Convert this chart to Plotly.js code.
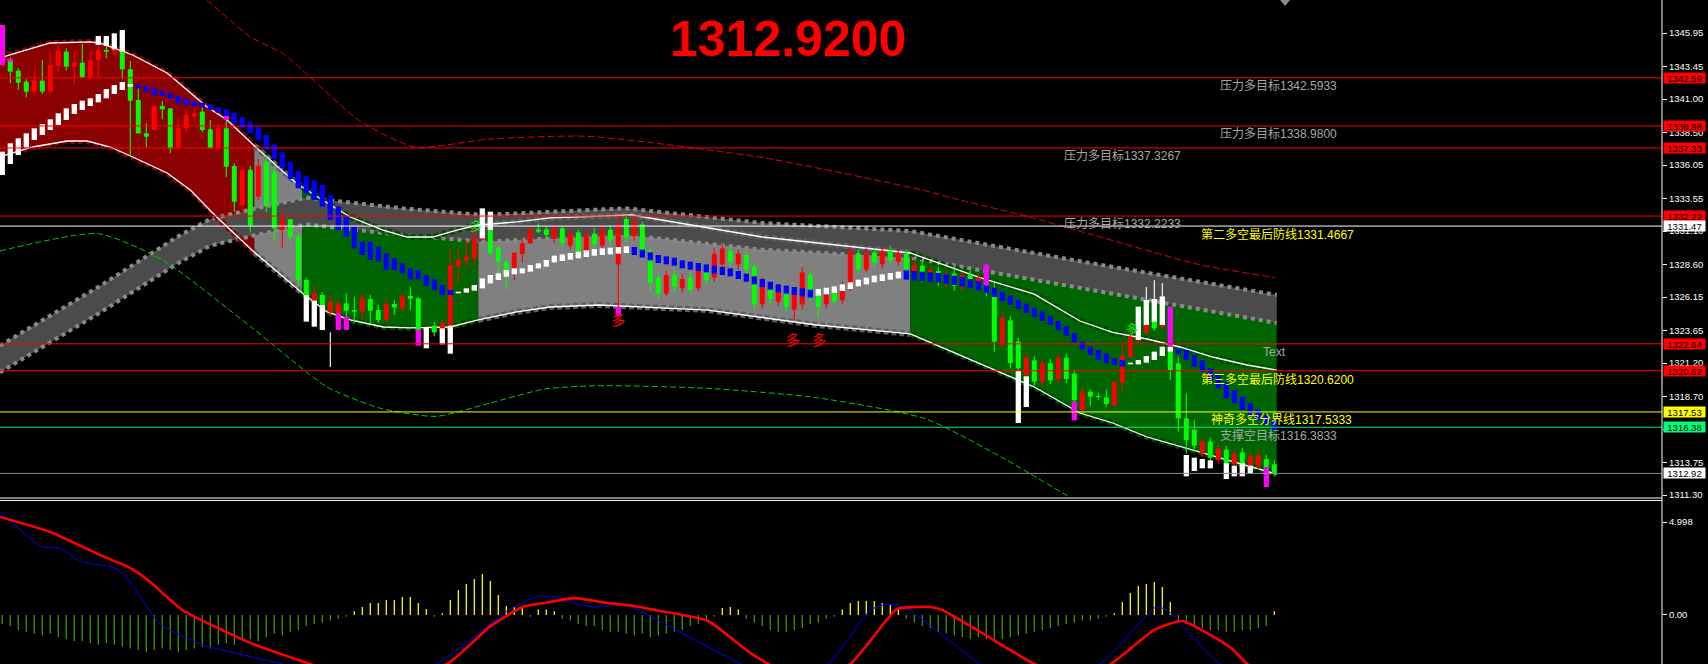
<!DOCTYPE html>
<html><head><meta charset="utf-8">
<script src="https://cdn.plot.ly/plotly-3.0.1.min.js"></script>
<style>html,body{margin:0;padding:0;background:#000;overflow:hidden}#chart{width:1708px;height:664px}</style>
</head><body><div id="chart"></div>
<script>
// ---------------- DATA ----------------
const candleOpen = [
1346.3,1343.925,1343.125,1342.3,1341.55,1342.375,1341.55,1343.475,1344.55,1343.425,
1343.725,1342.625,1343.925,1344.675,1344.55,1344.625,1343.225,1340.925,1338.425,1338.675,
1340.475,1340.3,1337.3,1338.8,1339.675,1340.05,1338.725,1337.3,1338.8,1335.975,
1333.05,1335.7,1333.675,1336.3,1335.5,1331.175,1331.975,1330.675,1327.425,1325.875,
1326.3,1325.0,1324.425,1325.675,1325.175,1325.05,1326.0,1325.175,1324.425,1325.625,
1325.3,1326.225,1326.05,1323.3,1324.0,1323.4,1323.0,1328.475,1328.85,1329.05,
1330.475,1331.225,1329.8,1328.725,1327.975,1329.375,1330.175,1331.225,1331.225,1330.5,
1331.3,1330.0,1331.0,1329.6,1330.9,1330.0,1331.2,1328.6,1332.0,1330.7,
1331.6,1329.6,1327.6,1326.4,1327.8,1326.8,1327.6,1326.8,1328.2,1327.6,
1328.6,1329.6,1328.6,1329.3,1328.4,1325.6,1327.0,1325.8,1326.6,1325.2,
1325.6,1327.8,1326.4,1325.6,1326.6,1325.9,1326.8,1329.4,1328.2,1329.5,
1328.6,1329.6,1328.8,1329.4,1328.0,1328.5,1327.5,1328.1,1327.2,1327.9,
1326.9,1327.8,1327.0,1327.4,1326.8,1322.6,1324.4,1322.8,1320.3,1321.4,
1319.8,1321.2,1320.0,1321.6,1320.4,1317.675,1319.05,1318.7,1318.625,1318.05,
1319.725,1321.675,1322.9,1323.5,1324.5,1323.9,1322.05,1321.175,1317.05,1316.2,
1314.4,1315.3,1313.9,1314.7,1313.6,1314.5,1313.3,1313.5,1314.0,1313.6];
const candleHigh = [
1346.5,1344.125,1343.3,1342.475,1343.125,1343.925,1344.55,1345.225,1344.8,1344.55,
1345.125,1344.475,1345.175,1345.05,1344.925,1344.625,1343.85,1341.8,1339.175,1340.475,
1340.85,1340.3,1339.55,1340.175,1340.225,1340.45,1339.425,1339.175,1339.425,1336.175,
1335.925,1336.0,1336.5,1336.8,1336.0,1332.725,1332.0,1330.925,1327.6,1327.05,
1326.5,1326.3,1325.9,1326.425,1326.175,1326.425,1326.3,1325.55,1326.05,1325.925,
1326.425,1326.925,1326.175,1324.0,1324.3,1324.5,1329.8,1329.675,1330.425,1331.425,
1331.3,1331.225,1329.925,1328.925,1329.475,1330.8,1331.4,1331.675,1331.425,1331.6,
1331.5,1331.3,1331.2,1331.2,1331.3,1331.6,1331.5,1332.2,1332.4,1332.1,
1331.8,1329.8,1328.0,1328.1,1328.2,1327.9,1328.0,1328.5,1328.6,1329.8,
1330.1,1329.9,1329.7,1329.6,1328.7,1327.6,1327.4,1327.1,1327.0,1326.8,
1328.4,1328.1,1326.8,1326.9,1327.0,1327.3,1329.9,1329.7,1329.8,1329.8,
1329.9,1330.0,1329.8,1329.7,1329.0,1328.8,1328.5,1328.4,1328.2,1328.2,
1328.0,1328.1,1327.9,1327.7,1327.2,1325.0,1324.7,1323.1,1322.0,1321.7,
1321.5,1321.5,1321.9,1321.9,1320.7,1319.3,1319.225,1318.975,1319.225,1319.8,
1322.8,1323.425,1324.0,1324.6,1324.7,1324.8,1322.4,1321.675,1318.9,1316.9,
1315.6,1315.6,1315.1,1315.0,1314.7,1314.8,1314.5,1314.6,1314.3,1313.9];
const candleLow = [
1343.5,1342.175,1341.675,1341.125,1341.175,1341.375,1341.375,1343.05,1343.125,1342.175,
1342.6,1342.475,1342.625,1344.05,1344.3,1342.475,1336.675,1338.4,1337.375,1338.675,
1339.475,1336.925,1337.3,1338.425,1339.3,1338.475,1337.3,1337.3,1335.125,1332.55,
1332.55,1331.0,1333.4,1332.5,1330.425,1329.8,1330.3,1326.975,1326.3,1325.05,
1325.05,1324.7,1324.4,1324.425,1324.175,1324.425,1324.175,1324.175,1324.175,1324.8,
1325.05,1325.175,1323.0,1322.8,1323.2,1323.0,1322.8,1327.175,1328.425,1328.55,
1330.4,1329.3,1327.425,1326.675,1327.425,1328.725,1330.1,1330.925,1330.475,1330.2,
1329.9,1329.7,1329.4,1329.3,1329.8,1329.8,1330.0,1325.2,1330.3,1330.4,
1329.0,1326.6,1326.0,1326.2,1326.5,1326.5,1326.4,1326.6,1327.1,1327.3,
1328.3,1328.4,1328.2,1327.9,1325.2,1325.3,1325.6,1325.5,1325.0,1324.4,
1325.2,1325.8,1324.6,1325.3,1325.5,1325.6,1326.6,1327.9,1328.0,1328.4,
1328.3,1328.6,1328.5,1327.9,1327.7,1327.3,1327.2,1327.0,1326.9,1326.6,
1326.6,1326.8,1326.7,1326.2,1322.0,1322.3,1320.8,1320.6,1320.0,1319.5,
1319.5,1319.6,1319.7,1319.7,1318.2,1317.5,1317.975,1318.425,1317.925,1317.925,
1319.05,1321.55,1322.7,1323.3,1323.6,1323.7,1319.925,1316.05,1314.4,1314.6,
1314.1,1313.8,1313.6,1313.4,1313.3,1313.1,1313.0,1313.2,1312.0,1312.7];
const candleClose = [
1343.8,1343.05,1342.225,1341.55,1342.375,1341.55,1343.55,1344.625,1343.425,1343.725,
1342.625,1343.925,1344.675,1344.55,1344.75,1343.225,1340.875,1338.425,1338.175,1340.475,
1340.225,1337.3,1338.8,1339.8,1339.925,1338.675,1337.3,1338.8,1335.925,1333.3,
1335.675,1331.5,1336.0,1333.0,1331.3,1331.975,1330.675,1327.425,1326.3,1326.425,
1325.05,1325.8,1325.675,1325.125,1325.05,1326.05,1325.125,1324.425,1325.625,1325.375,
1326.225,1326.025,1323.5,1323.7,1323.5,1324.2,1328.55,1328.925,1329.175,1330.55,
1331.225,1329.425,1328.8,1327.675,1329.475,1330.175,1331.225,1331.05,1330.8,1331.3,
1330.2,1330.9,1329.6,1330.8,1330.1,1331.2,1330.4,1331.6,1330.6,1331.8,
1329.4,1327.2,1326.4,1327.8,1326.9,1327.5,1326.7,1328.2,1327.4,1329.4,
1329.8,1328.8,1329.4,1328.2,1325.6,1327.2,1326.0,1326.8,1325.4,1326.4,
1328.0,1326.2,1325.4,1326.5,1325.8,1327.0,1329.6,1328.2,1329.4,1328.7,
1329.6,1328.9,1329.4,1328.2,1328.6,1327.6,1328.2,1327.3,1327.9,1327.0,
1327.8,1327.1,1327.6,1326.5,1322.8,1324.6,1321.2,1320.8,1321.6,1319.8,
1321.2,1319.9,1321.6,1320.0,1318.4,1319.05,1318.675,1318.65,1318.125,1319.8,
1321.725,1323.175,1323.6,1324.4,1323.8,1324.6,1320.675,1317.05,1315.425,1315.0,
1315.3,1314.1,1314.8,1313.7,1314.4,1313.4,1314.2,1314.3,1313.2,1312.92];

// trend blocks (white = up, blue = down)
const trendLo = [
1335.30,1336.125,1336.80,1337.35,1337.925,1338.3,1338.675,1339.05,1339.425,1339.875,
1340.175,1340.475,1340.75,1341.05,1341.375,1341.675,1341.925,1341.8,1341.55,1341.3,
1341.225,1341.0,1340.675,1340.55,1340.475,1340.375,1340.175,1339.975,1339.675,1339.175,
1338.8,1338.425,1337.9,1337.2,1336.5,1335.8,1335.0,1334.3,1333.925,1333.425,
1332.925,1331.925,1331.175,1330.675,1329.8,1329.3,1328.925,1328.8,1328.175,1328.175,
1327.925,1327.475,1327.475,1326.975,1326.675,1326.3,1326.3,1326.425,1326.475,1326.625,
1326.8,1327.175,1327.425,1327.675,1327.85,1327.925,1328.05,1328.3,1328.425,1328.75,
1328.85,1328.95,1329.05,1329.15,1329.25,1329.3,1329.35,1329.4,1329.45,1329.3,
1329.1,1328.9,1328.7,1328.6,1328.5,1328.3,1328.2,1328.1,1328.0,1327.9,
1327.8,1327.7,1327.5,1327.3,1327.1,1326.9,1326.7,1326.5,1326.4,1326.3,
1326.2,1326.1,1326.25,1326.35,1326.45,1326.6,1326.75,1326.95,1327.1,1327.25,
1327.35,1327.45,1327.55,1327.45,1327.4,1327.35,1327.3,1327.25,1327.15,1327.05,
1326.95,1326.8,1326.65,1326.45,1326.15,1325.85,1325.55,1325.25,1324.95,1324.65,
1324.35,1324.05,1323.65,1323.25,1322.75,1322.175,1321.8,1321.425,1321.175,1321.05,
1320.925,1321.1,1321.1,1321.225,1321.425,1321.725,1322.05,1321.875,1321.425,1320.925,
1320.55,1319.925,1319.3,1318.55,1318.175,1317.675,1317.3,1316.925,1316.55,1316.2];
const trendHi = [
1337.05,1337.675,1338.05,1338.425,1338.8,1339.125,1339.475,1339.925,1340.3,1340.625,
1340.875,1341.05,1341.375,1341.75,1342.05,1342.275,1342.125,1342.05,1341.975,1341.8,
1341.6,1341.425,1341.225,1340.975,1340.85,1340.725,1340.6,1340.375,1340.225,1339.975,
1339.625,1339.3,1338.9,1338.3,1337.6,1337.0,1336.3,1335.6,1335.2,1334.9,
1334.55,1333.8,1332.925,1332.175,1331.425,1330.3,1330.3,1329.925,1329.425,1329.05,
1328.675,1328.3,1328.175,1327.8,1327.475,1327.05,1326.675,1326.55,1326.8,1327.05,
1327.55,1327.8,1327.925,1328.175,1328.3,1328.3,1328.55,1328.675,1328.925,1329.25,
1329.35,1329.45,1329.55,1329.65,1329.75,1329.8,1329.85,1329.9,1329.95,1329.9,
1329.7,1329.5,1329.3,1329.2,1329.1,1328.9,1328.8,1328.7,1328.6,1328.5,
1328.4,1328.3,1328.1,1327.9,1327.7,1327.5,1327.3,1327.1,1327.0,1326.9,
1326.8,1326.7,1326.75,1326.85,1326.95,1327.1,1327.25,1327.45,1327.6,1327.75,
1327.85,1327.95,1328.05,1328.15,1328.1,1328.05,1328.0,1327.95,1327.85,1327.75,
1327.65,1327.5,1327.35,1327.15,1326.85,1326.55,1326.25,1325.95,1325.65,1325.35,
1325.05,1324.75,1324.35,1323.95,1323.45,1322.8,1322.425,1322.175,1321.925,1321.55,
1321.425,1321.225,1321.425,1321.725,1322.05,1322.425,1322.425,1322.225,1322.175,1321.8,
1321.425,1320.8,1320.3,1319.725,1319.175,1318.675,1318.175,1317.725,1317.3,1316.9];
const trendRuns = [['w',17],['b',40],['w',22],['b',23],['w',11],['b',28],['w',6],['b',13]];

// highlight bars (white / magenta)
const sigK  = [0,1,12,13,14,15,28,38,39,40,42,43,52,53,55,56,60,61,77,123,127,128,134,142,143,144,145,146,148,149,150,151,153,154,155,156,158];
const sigLo = [1343.55,1343.8,1345.05,1344.975,1344.725,1344.55,1339.425,1324.3,1323.925,1323.675,1323.675,1323.675,1322.5,1322.3,1322.6,1321.9,1330.55,1331.175,1324.7,1327.0,1316.7,1317.9,1316.9,1322.925,1324.05,1324.3,1324.05,1322.425,1312.7,1313.1,1313.3,1313.3,1312.5,1312.7,1312.7,1312.9,1311.9];
const sigHi = [1346.55,1344.0,1345.725,1345.725,1345.925,1346.175,1339.725,1326.3,1325.875,1325.55,1324.925,1324.675,1323.7,1323.9,1323.8,1324.0,1332.8,1332.55,1325.4,1328.6,1320.6,1320.2,1318.3,1325.425,1325.925,1326.0,1326.2,1325.425,1314.3,1314.1,1314.0,1313.9,1313.7,1313.5,1313.7,1313.5,1313.4];
const sigColor = ['m','m','w','w','w','w','m','w','w','w','m','m','m','w','w','w','w','w','m','m','w','w','m','w','w','w','w','m','w','w','w','w','w','w','w','w','m'];
const sigWickK  = [41,143,144,145];
const sigWickLo = [1320.9,1325.9,1326.0,1326.2];
const sigWickHi = [1323.5,1326.9,1327.4,1327.2];

// regression channel (bar index, price)
const upperK = [-0.3,2.2,6,11,12.2,16.3,20.6,23.1,25.6,28.1,31.5,36.3,37.5,40,43.5,47.6,50.6,53.8,56.8,59.5,64.3,68.5,78.7,95,113.5,122.2,129,134.7,138.8,143.1,147.2,151.3,155.6,159.3];
const upperP = [1344.08,1344.53,1345.2,1345.28,1345.2,1344.3,1342.95,1341.68,1340.4,1339.43,1337.5,1334.93,1334.4,1333.42,1332.15,1331.17,1330.65,1330.65,1331.17,1331.55,1331.78,1332.08,1332.3,1330.65,1329.45,1327.6,1326.37,1324.35,1323.5,1323.0,1322.4,1321.65,1321.05,1320.67];
const lowerK = [-0.3,3.8,8.1,10.6,13.5,16.3,20.6,23.5,26.3,27.2,31.5,37.5,40.6,43.5,47.6,51,56,59.5,64.3,68.5,74.6,88.2,101.8,113.5,129,134.7,138.8,143.1,159.3];
const lowerP = [1336.65,1337.4,1337.85,1337.85,1337.4,1336.65,1335.45,1334.17,1332.45,1331.92,1329.5,1326.45,1325.03,1324.43,1323.9,1323.83,1323.9,1324.43,1325.03,1325.4,1325.55,1325.17,1324.05,1323.38,1319.4,1317.45,1316.7,1315.65,1312.87];
const segBounds = [-0.3,31.5,37.5,59.5,113.5,159.3];
// grey ribbon band
const ribK   = [-0.3,12,22,26,31,38,50,60,78,95,113.5,135,159.3];
const ribTop = [1322.5,1326.9,1330.7,1332.0,1332.7,1333.6,1332.8,1332.3,1332.8,1331.7,1331.1,1328.8,1326.3];
const ribBot = [1320.5,1324.9,1328.7,1330.0,1330.7,1331.6,1330.8,1330.3,1330.8,1329.7,1329.1,1326.8,1324.2];
// envelope dashed lines
const redDashK = [25.6,28.5,31,35.1,44.6,51.5,61,73.2,95.1,115.5,118.5,128.1,135.8,149.5,159.1];
const redDashP = [1348.4,1346.9,1345.65,1344.4,1339.4,1337.4,1338.0,1338.2,1336.6,1334.1,1333.6,1332.2,1330.9,1328.6,1327.6];
const greenDashK = [-0.3,12,20.1,31.1,40.6,47.3,54.2,61,67.8,74.6,88.2,101.8,115.5,125,133.8];
const greenDashP = [1329.6,1330.9,1328.9,1323.9,1319.4,1317.8,1317.2,1318.2,1319.25,1319.5,1319.3,1318.6,1317.0,1314.1,1311.0];

// level lines
const levelPrice = [1342.59,1338.98,1337.33,1332.22,1331.47,1322.64,1320.62,1317.53,1316.38,1312.92];
const levelLabel = ['1342.59','1338.98','1337.33','1332.22','1331.47','1322.64','1320.62','1317.53','1316.38','1312.92'];
const noteText = ['压力多目标1342.5933','压力多目标1338.9800','压力多目标1337.3267','压力多目标1332.2233','第二多空最后防线1331.4667','第三多空最后防线1320.6200','神奇多空分界线1317.5333','支撑空目标1316.3833','Text'];
const notePrice = [1342.59,1338.98,1337.33,1332.22,1331.47,1320.62,1317.53,1316.38,1322.64];
const priceTicks = [1345.95,1343.45,1341.00,1338.50,1336.05,1333.55,1331.10,1328.60,1326.15,1323.65,1321.20,1318.70,1316.25,1313.75,1311.30];
const markK = [77,98.8,102.1];
const markP = [1324.35,1322.85,1322.85];
const gMarkK = [59.2,141.2];
const gMarkP = [1331.3,1323.6];
const lastPrice = '1312.9200';

// oscillator
const hist = [
-0.5,-0.6,-0.8,-0.9,-1.0,-1.1,-1.0,-1.2,-1.3,-1.4,
-1.4,-1.5,-1.6,-1.5,-1.6,-1.7,-1.8,-1.9,-2.0,-1.9,
-1.8,-1.9,-2.0,-1.9,-1.8,-1.7,-1.8,-1.6,-1.5,-1.6,
-1.4,-1.3,-1.4,-1.2,-1.0,-1.1,-0.9,-0.8,-0.6,-0.5,
-0.4,-0.3,-0.2,-0.1,0.2,0.43,0.65,0.65,0.81,0.81,
0.97,0.97,0.65,0.32,-0.1,0.1,0.81,1.34,1.67,1.94,
2.2,1.83,1.08,0.48,0.43,0.38,-0.1,0.3,0.3,0.2,
-0.2,-0.3,-0.5,-0.6,-0.6,-0.8,-0.9,-0.9,-1.0,-1.1,
-1.0,-1.2,-1.1,-1.0,-0.9,-0.8,-0.6,-0.5,-0.3,-0.1,
0.38,0.43,0.3,-0.2,-0.4,-0.6,-0.8,-0.9,-0.9,-0.8,
-0.7,-0.5,-0.4,-0.2,-0.1,0.3,0.65,0.75,0.75,0.75,
0.65,0.54,0.3,-0.2,-0.4,-0.6,-0.7,-0.9,-1.0,-1.1,
-1.2,-1.3,-1.2,-1.3,-1.4,-1.3,-1.2,-1.1,-1.0,-0.9,
-0.8,-0.7,-0.6,-0.5,-0.4,-0.3,-0.3,-0.2,-0.1,0.1,
0.7,1.18,1.56,1.67,1.77,1.5,0.7,-0.3,-0.5,-0.6,
-0.7,-0.8,-0.8,-0.9,-0.9,-0.8,-0.8,-0.7,-0.6,0.2];
const sigLineK = [-0.3,6,12.2,16,18.5,22.5,31,38.5,45,55.6,61,65,67.8,71.5,75.6,79,81.5,88.2,93.7,100,106,111.8,114,116,117.5,122.2,129,134,138.6,144,147.5,153.6,155.6,159];
const sigLineV = [5.27,4.46,3.23,2.53,1.77,0.27,-1.5,-2.63,-3.5,-2.63,-0.6,0.43,0.65,0.91,0.65,0.48,0.27,-0.32,-2.1,-3.5,-2.63,0.32,0.43,0.43,0.27,-0.9,-2.63,-3.5,-2.63,-0.8,-0.32,-1.77,-2.63,-3.3];
const macdK = [-0.3,5,7.2,10,13.8,15.1,18.1,19.7,25,35,42,54.2,63.3,66.7,69.5,72.2,74,77.8,79.5,92.3,97,103.2,108.5,110.7,113,122.2,127,137.2,144.2,145.6,152.2,158];
const macdV = [5.54,3.66,3.6,2.85,2.58,2.26,0.43,-0.5,-1.6,-2.63,-3.5,-2.63,0.27,0.97,0.97,0.54,0.43,0.59,0.27,-2.63,-3.5,-2.63,0.27,0.59,0.38,-2.63,-3.5,-2.63,0.43,0.27,-2.63,-3.5];
const oscTicks = [0, 4.998];
const oscTickText = ['0.00','4.998'];

// ---------------- BUILD ----------------
const idx = candleOpen.map((_, i) => i);
const FONT = 'Liberation Sans, Arial, Noto Sans CJK SC, sans-serif';
const RED = '#ff0000', GRN = '#00ff00';

const trendCol = [];
trendRuns.forEach(([c, n]) => { for (let j = 0; j < n; j++) trendCol.push(c === 'w' ? '#ffffff' : '#0000ff'); });

const bodyBase = idx.map(i => Math.min(candleOpen[i], candleClose[i]));
const bodyLen = idx.map(i => Math.max(Math.abs(candleClose[i] - candleOpen[i]), 0.07));
const candleCol = idx.map(i => candleClose[i] > candleOpen[i] ? RED : GRN);

const traces = [];
traces.push({type:'bar', x: idx, base: candleLow, y: idx.map(i => candleHigh[i] - candleLow[i]), width: 0.14,
  marker:{color: candleCol, line:{width:0}}, hoverinfo:'skip'});
traces.push({type:'bar', x: idx, base: bodyBase, y: bodyLen, width: 0.62,
  marker:{color: candleCol, line:{width:0}}, hoverinfo:'skip'});
traces.push({type:'bar', x: idx, base: trendLo, y: idx.map(i => trendHi[i] - trendLo[i]), width: 0.66,
  marker:{color: trendCol, line:{width:0}}, hoverinfo:'skip'});
traces.push({type:'bar', x: sigK, base: sigLo, y: sigK.map((k, j) => sigHi[j] - sigLo[j]), width: 0.66,
  marker:{color: sigColor.map(c => c === 'w' ? '#ffffff' : '#ff00ff'), line:{width:0}}, hoverinfo:'skip'});
traces.push({type:'bar', x: sigWickK, base: sigWickLo, y: sigWickK.map((k, j) => sigWickHi[j] - sigWickLo[j]), width: 0.14,
  marker:{color:'#ffffff', line:{width:0}}, hoverinfo:'skip'});
traces.push({type:'scatter', mode:'lines', x: redDashK, y: redDashP, line:{color:'#e00000', width:1, dash:'7px,3px', shape:'spline', smoothing:0.6}, hoverinfo:'skip'});
traces.push({type:'scatter', mode:'lines', x: greenDashK, y: greenDashP, line:{color:'#00cc00', width:1, dash:'6px,3px', shape:'spline', smoothing:0.6}, hoverinfo:'skip'});
traces.push({type:'bar', x: idx, y: hist, yaxis:'y2', width: 0.16,
  marker:{color: hist.map(v => v >= 0 ? '#ffff00' : '#3f9a00'), line:{width:0}}, hoverinfo:'skip'});
traces.push({type:'scatter', mode:'lines', x: macdK, y: macdV, yaxis:'y2', line:{color:'#0000ff', width:1, shape:'spline', smoothing:0.5}, hoverinfo:'skip'});
traces.push({type:'scatter', mode:'lines', x: sigLineK, y: sigLineV, yaxis:'y2', line:{color:'#ff0000', width:2.6, shape:'spline', smoothing:0.5}, hoverinfo:'skip'});
traces.push({type:'scatter', mode:'text', x: markK, y: markP, text: markK.map(() => '多'),
  textfont:{color:'#ff0000', size:14, family: FONT}, hoverinfo:'skip'});
traces.push({type:'scatter', mode:'text', x: gMarkK, y: gMarkP, text: gMarkK.map(() => '多'),
  textfont:{color:'#00ff00', size:12, family: FONT}, hoverinfo:'skip'});

// ---------------- SHAPES ----------------
function sliceCurve(ks, ps, a, b) {
  const K = [], P = [];
  ks.forEach((k, i) => { if (k >= a - 1e-9 && k <= b + 1e-9) { K.push(k); P.push(ps[i]); } });
  return [K, P];
}
function pathOf(K, P) { return K.map((k, i) => (i ? 'L' : 'M') + k + ',' + P[i]).join(' '); }

const shapes = [];
const segFill = ['#8b0000', '#808080', '#006400', '#808080', '#006400'];
const segEdge = ['#8b0000', '#5e5e5e', '#004a00', '#5e5e5e', '#004a00'];
for (let s = 0; s < 5; s++) {
  const a = segBounds[s], b = segBounds[s + 1];
  const [tK, tP] = s === 4 ? sliceCurve(ribK, ribTop, a, b) : sliceCurve(upperK, upperP, a, b);
  const [bK, bP] = sliceCurve(lowerK, lowerP, a, b);
  const K = tK.concat(bK.slice().reverse()), P = tP.concat(bP.slice().reverse());
  shapes.push({type:'path', xref:'x', yref:'y', layer:'below', path: pathOf(K, P) + ' Z', fillcolor: segFill[s], line:{width:0}});
}
{
  const K = ribK.concat(ribK.slice().reverse()), P = ribTop.concat(ribBot.slice().reverse());
  shapes.push({type:'path', xref:'x', yref:'y', layer:'below', path: pathOf(K, P) + ' Z', fillcolor:'#4b4b4b', line:{width:0}});
  shapes.push({type:'path', xref:'x', yref:'y', layer:'below', path: pathOf(ribK, ribTop), fillcolor:'rgba(0,0,0,0)', line:{color:'#8a8a8a', width:4, dash:'4px,4px'}});
  shapes.push({type:'path', xref:'x', yref:'y', layer:'below', path: pathOf(ribK, ribBot), fillcolor:'rgba(0,0,0,0)', line:{color:'#8a8a8a', width:4, dash:'4px,4px'}});
}
for (let s = 0; s < 5; s++) {
  const a = segBounds[s], b = segBounds[s + 1];
  const [tK, tP] = sliceCurve(upperK, upperP, a, b);
  const [bK, bP] = sliceCurve(lowerK, lowerP, a, b);
  shapes.push({type:'path', xref:'x', yref:'y', layer:'below', path: pathOf(tK, tP), fillcolor:'rgba(0,0,0,0)', line:{color: segEdge[s], width:6, dash:'5px,3px'}});
  shapes.push({type:'path', xref:'x', yref:'y', layer:'below', path: pathOf(bK, bP), fillcolor:'rgba(0,0,0,0)', line:{color: segEdge[s], width:6, dash:'5px,3px'}});
}
shapes.push({type:'path', xref:'x', yref:'y', layer:'below', path: pathOf(upperK, upperP), fillcolor:'rgba(0,0,0,0)', line:{color:'#ffffff', width:1.3}});
shapes.push({type:'path', xref:'x', yref:'y', layer:'below', path: pathOf(lowerK, lowerP), fillcolor:'rgba(0,0,0,0)', line:{color:'#ffffff', width:1.3}});

const lvlLine = ['#ff0000','#ff0000','#ff0000','#ff0000','#ffffff','#ff0000','#ff0000','#ffff00','#00e87a','#8c8c8c'];
const lvlBox  = ['#ff0000','#ff0000','#ff0000','#ff0000','#ffffff','#ff0000','#ff0000','#ffff00','#00ff80','#ffffff'];
levelPrice.forEach((p, i) => shapes.push({type:'line', xref:'paper', yref:'y', x0:0, x1:1, y0:p, y1:p, line:{color: lvlLine[i], width:1}}));
shapes.push({type:'line', xref:'paper', yref:'paper', x0:0, x1:1, y0:0.2500, y1:0.2500, line:{color:'#ffffff', width:1}});
shapes.push({type:'line', xref:'paper', yref:'paper', x0:0, x1:1, y0:0.2463, y1:0.2463, line:{color:'#ffffff', width:1}});
shapes.push({type:'line', xref:'paper', yref:'paper', x0:1, x1:1, y0:0, y1:1, line:{color:'#ffffff', width:1}});
shapes.push({type:'path', xref:'paper', yref:'paper', path:'M0.7702,1 L0.7762,1 L0.7732,0.991 Z', fillcolor:'#8c8c8c', line:{width:0}});

// ---------------- ANNOTATIONS ----------------
const ann = [];
ann.push({xref:'paper', yref:'paper', x:0.4741, y:0.9413, xanchor:'center', yanchor:'middle', showarrow:false,
  text:'<b>' + lastPrice + '</b>', font:{family:'Liberation Sans, Arial', size:50, color:'#ff0000'}});
const noteX = [0.7335,0.7335,0.6396,0.6396,0.7220,0.7220,0.7280,0.7335,0.7593];
const noteCol = ['#a8a8a8','#a8a8a8','#a8a8a8','#a8a8a8','#ffff00','#ffff00','#ffff00','#a8a8a8','#a8a8a8'];
noteText.forEach((t, i) => ann.push({xref:'paper', yref:'y', x: noteX[i], y: notePrice[i], xanchor:'left', yanchor:'top',
  showarrow:false, text:t, borderpad:0, font:{family: FONT, size:12, color: noteCol[i]}}));
levelPrice.forEach((p, i) => ann.push({xref:'paper', yref:'y', x:1, y:p, xanchor:'left', yanchor:'middle', xshift:1,
  showarrow:false, text: levelLabel[i], bgcolor: lvlBox[i], width:41, height:10, borderpad:0, align:'center',
  font:{family: FONT, size:9.5, color:'#000000'}}));

const layout = {
  width:1708, height:664, paper_bgcolor:'#000000', plot_bgcolor:'#000000',
  margin:{l:0, r:46, t:0, b:0, pad:0, autoexpand:false}, showlegend:false, barmode:'overlay',
  xaxis:{range:[-0.2875, 207.4625], visible:false, fixedrange:true},
  yaxis:{domain:[0.2515, 1], range:[1311.15, 1348.425], side:'right', tickmode:'array', tickvals: priceTicks,
    ticktext: priceTicks.map(v => v.toFixed(2)), ticks:'outside', ticklen:4, tickcolor:'#ffffff',
    tickfont:{family: FONT, size:9.5, color:'#ffffff'}, showgrid:false, zeroline:false, showline:false, fixedrange:true},
  yaxis2:{domain:[0, 0.2455], range:[-2.634, 6.129], side:'right', anchor:'x', tickmode:'array', tickvals: oscTicks,
    ticktext: oscTickText, ticks:'outside', ticklen:4, tickcolor:'#ffffff',
    tickfont:{family: FONT, size:9.5, color:'#ffffff'}, showgrid:false, zeroline:false, showline:false, fixedrange:true},
  shapes: shapes, annotations: ann
};
Plotly.newPlot('chart', traces, layout, {staticPlot:true, displayModeBar:false});
</script></body></html>
